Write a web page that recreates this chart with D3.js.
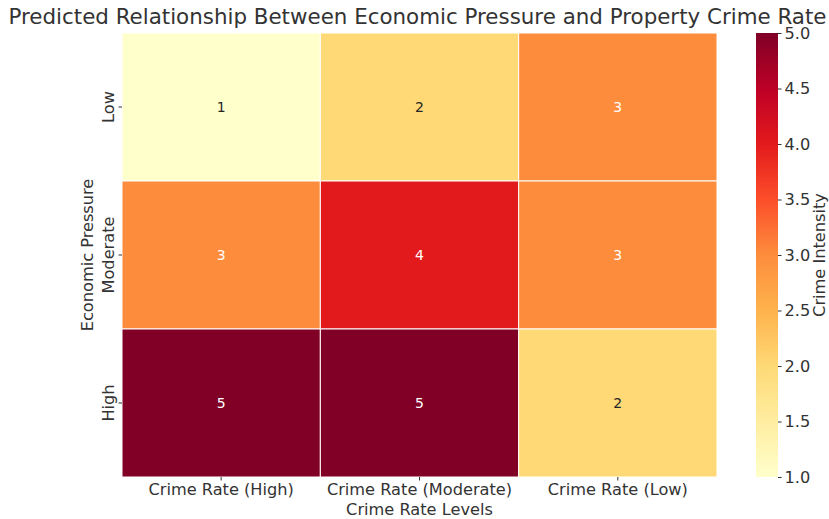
<!DOCTYPE html>
<html><head><meta charset="utf-8">
<script src="https://cdn.jsdelivr.net/npm/d3@7"></script>
<style>body{margin:0;background:#fff;} text{font-family:"DejaVu Sans",sans-serif;fill:#333;}</style>
</head><body>
<svg id="chart" width="829" height="519"></svg>
<script>
const xCategories = ["Crime Rate (High)", "Crime Rate (Moderate)", "Crime Rate (Low)"];
const yCategories = ["Low", "Moderate", "High"];
const values = [
  [1, 2, 3],
  [3, 4, 3],
  [5, 5, 2]
];
const colorbarTicks = [1.0, 1.5, 2.0, 2.5, 3.0, 3.5, 4.0, 4.5, 5.0];
const ylorrd = ["#ffffcc","#ffeda0","#fed976","#feb24c","#fd8d3c","#fc4e2a","#e31a1c","#bd0026","#800026"];

const FS = 16.2;
const svg = d3.select("#chart");
const L = 122, R = 717, T = 33, B = 477;
const x = d3.scaleBand().domain(xCategories).range([L, R]);
const y = d3.scaleBand().domain(yCategories).range([T, B]);
const vmin = 1, vmax = 5;
const color = d3.scaleLinear()
  .domain(ylorrd.map((_, i) => vmin + (vmax - vmin) * i / (ylorrd.length - 1)))
  .range(ylorrd).interpolate(d3.interpolateRgb);

const cells = [];
values.forEach((row, i) => row.forEach((v, j) => cells.push({r: yCategories[i], c: xCategories[j], v})));

svg.append("g").selectAll("rect").data(cells).join("rect")
  .attr("x", d => x(d.c)).attr("y", d => y(d.r))
  .attr("width", x.bandwidth()).attr("height", y.bandwidth())
  .attr("fill", d => color(d.v)).attr("stroke", "#fff").attr("stroke-width", 1);

function lum(c) {
  const rgb = d3.rgb(c);
  const f = u => { u /= 255; return u <= 0.03928 ? u / 12.92 : Math.pow((u + 0.055) / 1.055, 2.4); };
  return 0.2126 * f(rgb.r) + 0.7152 * f(rgb.g) + 0.0722 * f(rgb.b);
}
svg.append("g").selectAll("text").data(cells).join("text")
  .attr("x", d => x(d.c) + x.bandwidth() / 2).attr("y", d => y(d.r) + y.bandwidth() / 2)
  .attr("text-anchor", "middle").attr("dominant-baseline", "central")
  .style("font-size", "14px")
  .style("fill", d => lum(color(d.v)) > 0.408 ? "#262626" : "#ffffff")
  .text(d => d.v);

// x axis
const xAxis = svg.append("g").attr("transform", `translate(0,${B})`)
  .call(d3.axisBottom(x).tickSize(3.5).tickPadding(3));
xAxis.select(".domain").remove();
xAxis.selectAll("line").attr("stroke", "#333");
xAxis.selectAll("text").style("font-size", FS + "px").style("fill", "#333").attr("font-family", null);

// y axis
const yAxis = svg.append("g").attr("transform", `translate(${L},0)`)
  .call(d3.axisLeft(y).tickSize(3.5).tickPadding(0));
yAxis.select(".domain").remove();
yAxis.selectAll("line").attr("stroke", "#333");
yAxis.selectAll("text").style("font-size", FS + "px").style("fill", "#333")
  .attr("x", null).attr("dy", null)
  .attr("text-anchor", "middle")
  .attr("transform", "translate(-8,0) rotate(-90)");

// axis labels
svg.append("text").attr("x", (L + R) / 2).attr("y", 515).attr("text-anchor", "middle")
  .style("font-size", FS + "px").text("Crime Rate Levels");
svg.append("text").attr("transform", `translate(93,${(T + B) / 2}) rotate(-90)`).attr("text-anchor", "middle")
  .style("font-size", FS + "px").text("Economic Pressure");

// title
svg.append("text").attr("x", 417.5).attr("y", 24).attr("text-anchor", "middle")
  .style("font-size", "21.4px").text("Predicted Relationship Between Economic Pressure and Property Crime Rate");

// colorbar
const cbL = 756, cbW = 22;
const cy = d3.scaleLinear().domain([vmin, vmax]).range([B, T]);
const defs = svg.append("defs");
const grad = defs.append("linearGradient").attr("id", "cbgrad").attr("x1", 0).attr("y1", 1).attr("x2", 0).attr("y2", 0);
ylorrd.forEach((c, i) => grad.append("stop").attr("offset", i / (ylorrd.length - 1)).attr("stop-color", c));
svg.append("rect").attr("x", cbL).attr("y", T).attr("width", cbW).attr("height", B - T).attr("fill", "url(#cbgrad)");
const cAxis = svg.append("g").attr("transform", `translate(${cbL + cbW},0)`)
  .call(d3.axisRight(cy).tickValues(colorbarTicks).tickFormat(d3.format(".1f")).tickSize(3.5).tickPadding(3));
cAxis.select(".domain").remove();
cAxis.selectAll("line").attr("stroke", "#333");
cAxis.selectAll("text").style("font-size", FS + "px").style("fill", "#333");
svg.append("text").attr("transform", `translate(825,${(T + B) / 2}) rotate(-90)`).attr("text-anchor", "middle")
  .style("font-size", FS + "px").text("Crime Intensity");
</script>
</body></html>
